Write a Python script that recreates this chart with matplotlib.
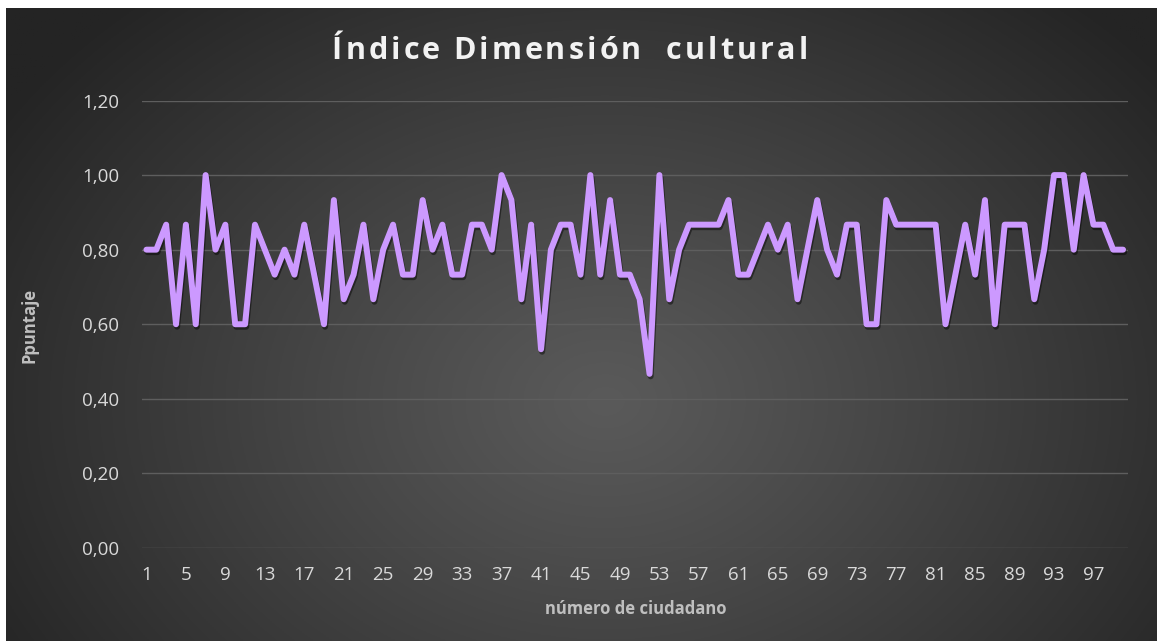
import numpy as np
import matplotlib
matplotlib.use("Agg")
import matplotlib.pyplot as plt
import matplotlib.patheffects as pe

# ---- data ----
ciudadanos = list(range(1, 101))
puntaje = [
    0.800, 0.800, 0.867, 0.600, 0.867, 0.600, 1.000, 0.800, 0.867, 0.600,
    0.600, 0.867, 0.800, 0.733, 0.800, 0.733, 0.867, 0.733, 0.600, 0.933,
    0.667, 0.733, 0.867, 0.667, 0.800, 0.867, 0.733, 0.733, 0.933, 0.800,
    0.867, 0.733, 0.733, 0.867, 0.867, 0.800, 1.000, 0.933, 0.667, 0.867,
    0.533, 0.800, 0.867, 0.867, 0.733, 1.000, 0.733, 0.933, 0.733, 0.733,
    0.667, 0.467, 1.000, 0.667, 0.800, 0.867, 0.867, 0.867, 0.867, 0.933,
    0.733, 0.733, 0.800, 0.867, 0.800, 0.867, 0.667, 0.800, 0.933, 0.800,
    0.733, 0.867, 0.867, 0.600, 0.600, 0.933, 0.867, 0.867, 0.867, 0.867,
    0.867, 0.600, 0.733, 0.867, 0.733, 0.933, 0.600, 0.867, 0.867, 0.867,
    0.667, 0.800, 1.000, 1.000, 0.800, 1.000, 0.867, 0.867, 0.800, 0.800,
]
x_tick_values = list(range(1, 101, 4))
y_tick_values = [0.0, 0.2, 0.4, 0.6, 0.8, 1.0, 1.2]
y_tick_labels = ["0,00", "0,20", "0,40", "0,60", "0,80", "1,00", "1,20"]
titulo = "Índice Dimensión  cultural"
etiqueta_x = "número de ciudadano"
etiqueta_y = "Ppuntaje"

W, H = 1157, 641
fig = plt.figure(figsize=(W / 100, H / 100), dpi=100, facecolor="white")

# background radial gradient
bg = fig.add_axes([6 / W, 0, 1 - 6 / W, 1 - 8 / H], zorder=-10)
bg.set_axis_off()
ny, nx = 320, 580
yy, xx = np.mgrid[0:ny, 0:nx]
cx, cy = nx * 0.52, ny * 0.62
r = np.sqrt(((xx - cx) / (nx * 0.62)) ** 2 + ((yy - cy) / (ny * 0.85)) ** 2)
r = np.clip(r, 0, 1)
c_center, c_edge = 0x5a / 255, 0x24 / 255
val = c_center + (c_edge - c_center) * r ** 1.1
img = np.dstack([val, val, val])
bg.imshow(img, extent=[0, 1, 0, 1], aspect="auto", origin="upper")
bg.set_xlim(0, 1)
bg.set_ylim(0, 1)

ax = fig.add_axes([141.5 / W, 1 - 548 / H, (1128 - 141.5) / W, (548 - 100.5) / H])
ax.set_facecolor("none")
for s in ax.spines.values():
    s.set_visible(False)

ax.plot(ciudadanos, puntaje, color="#CC99FF", lw=4.3, solid_joinstyle="round",
        solid_capstyle="round", zorder=3,
        path_effects=[pe.SimpleLineShadow(offset=(0.8, -1.8), shadow_color="black", alpha=0.45),
                      pe.Normal()])

ax.set_xlim(0.5, 100.5)
ax.set_ylim(0, 1.2)
ax.set_yticks(y_tick_values)
ax.set_yticklabels(y_tick_labels)
ax.set_xticks(x_tick_values)
ax.set_xticklabels([str(v) for v in x_tick_values])
ax.tick_params(axis="both", length=0, colors="#D9D9D9", labelsize=13.5)
ax.tick_params(axis="y", pad=16)
ax.tick_params(axis="x", pad=13)
for t in ax.get_xticklabels() + ax.get_yticklabels():
    t.set_fontfamily("Open Sans")
ax.grid(axis="y", color="#5E5E5E", lw=1.0)
ax.set_axisbelow(True)

# title with letter spacing (drawn character by character)
renderer = fig.canvas.get_renderer()
tkw = dict(fontsize=22, fontweight="bold", color="#F2F2F2", family="Open Sans")


def advance(ch):
    t1 = fig.text(0, 0, "x" + ch + "x", **tkw)
    t2 = fig.text(0, 0, "xx", **tkw)
    w = t1.get_window_extent(renderer).width - t2.get_window_extent(renderer).width
    t1.remove()
    t2.remove()
    return w


widths = [advance(c) for c in titulo]
target = 476.0
gap = max(0.0, (target - sum(widths)) / (len(titulo) - 1))
total = sum(widths) + gap * (len(titulo) - 1)
x0 = 570 - total / 2
ypix = H - 51
for c, w in zip(titulo, widths):
    if c != " ":
        fig.text(x0 / W, ypix / H, c, ha="left", va="center", **tkw)
    x0 += w + gap

fig.text(636 / W, 1 - 609 / H, etiqueta_x, ha="center", va="center", fontsize=12,
         fontweight="bold", color="#BFBFBF", family="Open Sans")
fig.text(29 / W, 1 - 325 / H, etiqueta_y, ha="center", va="center", fontsize=12,
         fontweight="bold", color="#BFBFBF", family="Open Sans", rotation=90)

fig.savefig("out.png", dpi=100, facecolor="white")
